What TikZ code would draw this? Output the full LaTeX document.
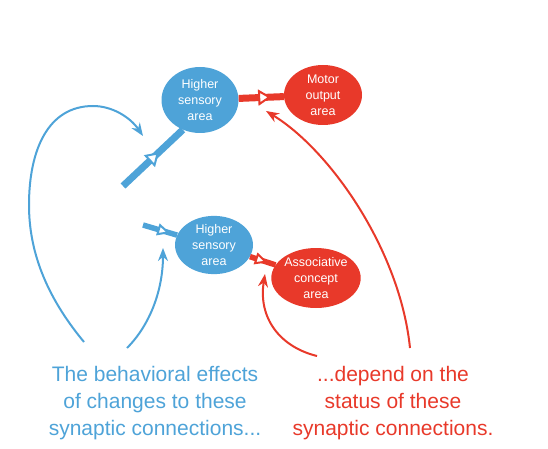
\documentclass[tikz,border=0pt]{standalone}
\usepackage{fontspec}
\setmainfont{Liberation Sans}
\usetikzlibrary{arrows.meta,decorations.markings,shapes.geometric}
\definecolor{cblue}{HTML}{4EA3D8}
\definecolor{cred}{HTML}{E8392A}
\tikzset{
  area/.style={ellipse, fill=#1, text=white, inner sep=0pt, align=center,
    minimum width=78pt, minimum height=60pt, font=\fontsize{12.5}{16}\selectfont},
  syn/.style n args={4}{draw=#1, line width=#2, postaction={decorate},
    decoration={markings, mark=at position #3 with
      {\arrow{Triangle[fill=white, length=13pt, width=#4, line width=2pt]}}}},
  link/.style={draw=#1, line width=2pt, -{Stealth[length=13pt, width=10pt]}},
  says/.style={text=#1, align=center, font=\fontsize{21}{27}\selectfont}
}

\begin{document}
\begin{tikzpicture}[x=1pt, y=-1pt]
  \useasboundingbox (0,0) rectangle (548,449);
  \node[area=cblue, minimum width=77pt, minimum height=66pt] (hs1) at (200,100) {Higher\\sensory\\area};
  \node[area=cred] (mo) at (323,95) {Motor\\output\\area};
  \node[area=cblue, minimum height=58pt] (hs2) at (214,245) {Higher\\sensory\\area};
  \node[area=cred] (ac) at (316,278) {Associative\\concept\\area};
  \coordinate (s1) at (123,186);
  \coordinate (s2) at (143,225);
  \draw[syn={cred}{7pt}{0.72}{16pt}] (hs1) -- (mo);
  \draw[syn={cblue}{7pt}{0.6}{16pt}] (s1) -- (hs1.240);
  \draw[syn={cblue}{5.5pt}{0.8}{12pt}] (s2) -- (hs2.165);
  \draw[syn={cred}{5.5pt}{0.7}{12pt}] (hs2) -- (ac);

  \node[says=cblue] (tb) at (155,403) {The behavioral effects\\of changes to these\\synaptic connections...};
  \node[says=cred] (tr) at (393,403) {...depend on the\\status of these\\synaptic connections.};

  \coordinate (b1) at (84,342);
  \coordinate (b2) at (143,136);
  \coordinate (b3) at (127,348);
  \coordinate (b4) at (163,248);
  \coordinate (r1) at (317,356);
  \coordinate (r2) at (265,274);
  \coordinate (r3) at (410,348);
  \coordinate (r4) at (266,111);
  \draw[link=cblue] (b1) .. controls (45,295) and (29,250) .. (29,205)
    .. controls (29,150) and (48,106) .. (93,106)
    .. controls (112,106) and (130,117) .. (b2);
  \draw[link=cblue] (b3) .. controls (150,325) and (163,290) .. (b4);
  \draw[link=cred] (r1) .. controls (280,347) and (258,318) .. (r2);
  \draw[link=cred] (r3) .. controls (400,250) and (330,150) .. (r4);
\end{tikzpicture}
\end{document}
